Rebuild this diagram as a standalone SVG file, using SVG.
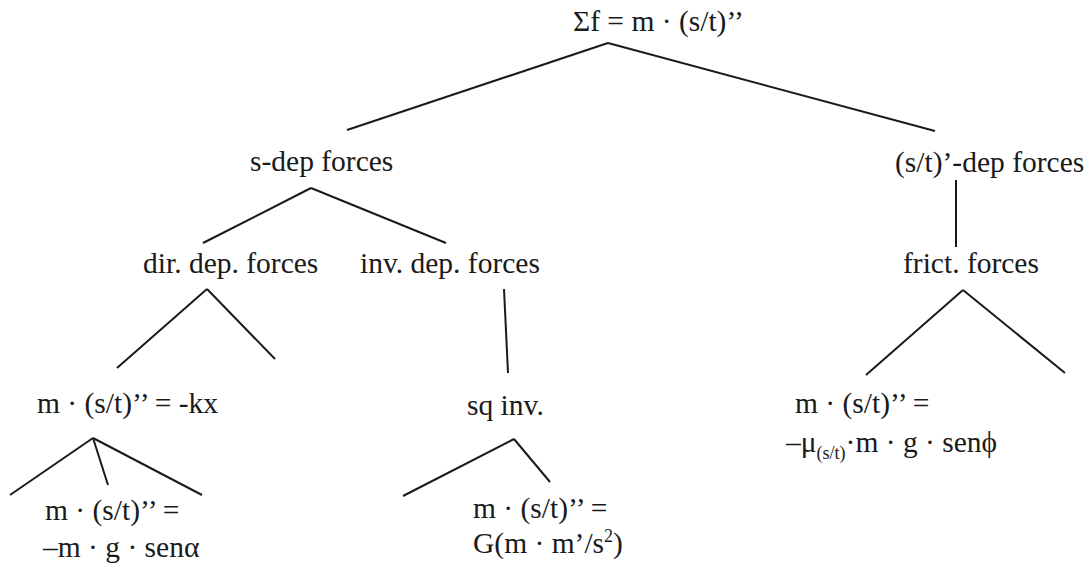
<svg xmlns="http://www.w3.org/2000/svg" width="1091" height="567" viewBox="0 0 1091 567">
<style>
.sub{font-size:18px}
.c line{stroke:#1a1a1a;stroke-width:2}
</style>
<rect width="1091" height="567" fill="#ffffff"/>
<g id="connectors" class="c">
<line x1="608" y1="43" x2="347" y2="130"/>
<line x1="608" y1="43" x2="935" y2="131"/>
<line x1="311" y1="188" x2="203" y2="243"/>
<line x1="311" y1="188" x2="446" y2="243"/>
<line x1="956" y1="180" x2="956" y2="247"/>
<line x1="207" y1="289" x2="117" y2="368"/>
<line x1="207" y1="289" x2="275" y2="359"/>
<line x1="504" y1="289" x2="508" y2="373"/>
<line x1="963" y1="290" x2="866" y2="375"/>
<line x1="963" y1="290" x2="1065" y2="373"/>
<line x1="93" y1="438" x2="10" y2="495"/>
<line x1="93" y1="438" x2="108" y2="485"/>
<line x1="93" y1="438" x2="202" y2="495"/>
<line x1="514" y1="439" x2="403" y2="496"/>
<line x1="514" y1="439" x2="550" y2="482"/>
</g>
<g font-family="Liberation Serif, Times New Roman, Tinos, Noto Serif, DejaVu Serif, serif" font-size="29.5" fill="#1a1a1a">
<g id="root"><text x="573" y="31">Σf = m · (s/t)’’</text></g>
<g id="s-dep"><text x="250" y="171">s-dep forces</text></g>
<g id="st-dep"><text x="895" y="172">(s/t)’-dep forces</text></g>
<g id="dir-dep"><text x="143" y="273">dir. dep. forces</text></g>
<g id="inv-dep"><text x="360" y="273">inv. dep. forces</text></g>
<g id="frict"><text x="903" y="273">frict. forces</text></g>
<g id="kx"><text x="37" y="413">m · (s/t)’’ = -kx</text></g>
<g id="sq-inv"><text x="467" y="415">sq inv.</text></g>
<g id="frict-eq"><text x="795" y="413">m · (s/t)’’ =</text><text x="786" y="452">–μ<tspan class="sub" dy="7">(s/t)</tspan><tspan dy="-7">·m · g · senϕ</tspan></text></g>
<g id="incline"><text x="45" y="520">m · (s/t)’’ =</text><text x="43" y="557">–m · g · senα</text></g>
<g id="gravity"><text x="473" y="518">m · (s/t)’’ =</text><text x="473" y="553">G(m · m’/s<tspan class="sub" dy="-11">2</tspan><tspan dy="11">)</tspan></text></g>
</g>
</svg>
